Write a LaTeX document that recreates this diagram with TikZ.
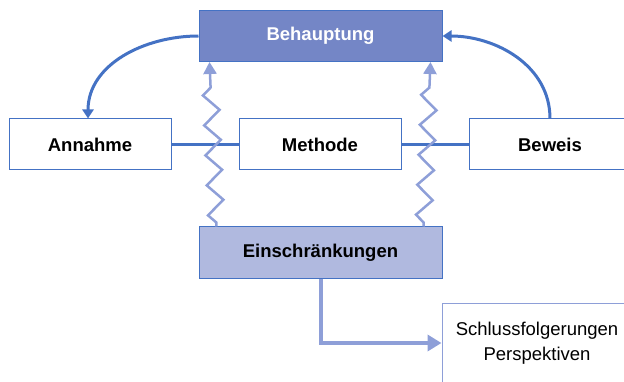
\documentclass[tikz,border=0pt]{standalone}
\usepackage{fontspec}
\setmainfont{Liberation Sans}
\usetikzlibrary{arrows.meta,decorations.pathmorphing}
\definecolor{darkblau}{HTML}{4472C4}
\definecolor{mittelblau}{HTML}{7486C6}
\definecolor{hellblau}{HTML}{B0B9DF}
\definecolor{zackblau}{HTML}{8E9FD8}
\tikzstyle{block} = [draw=darkblau, rectangle, line width=1pt, inner sep=0pt,
    minimum height=51pt, minimum width=162pt, font=\fontsize{18.5}{21}\selectfont\bfseries]
\tikzstyle{wide} = [block, minimum width=243pt]
\tikzstyle{link} = [draw=darkblau, line width=3pt]
\tikzstyle{bogen} = [draw=darkblau, line width=3pt, -{Triangle[width=11pt,length=9pt]}]
\tikzstyle{blitz} = [draw=zackblau, line width=2.5pt, -{Triangle[width=13pt,length=12pt]},
    decorate, decoration={zigzag, segment length=30pt, amplitude=8pt, pre length=4pt, post length=14pt}]

\begin{document}
\begin{tikzpicture}[x=1pt, y=-1pt, >=latex]
    \useasboundingbox (0,0) rectangle (624,382);
    \clip (0,0) rectangle (624,382);
    \node [wide, fill=mittelblau, text=white] (claim) at (320.5,36) {Behauptung};
    \node [block, fill=white] (annahme) at (90,144.5) {Annahme};
    \node [block, fill=white] (methode) at (320,144.5) {Methode};
    \node [block, fill=white] (beweis) at (550,144.5) {Beweis};
    \node [wide, fill=hellblau] (limits) at (320.5,252.5) {Einschränkungen};
    \node [block, draw=zackblau, fill=white, minimum width=190pt, minimum height=80pt, align=center,
        font=\fontsize{18.5}{25}\selectfont] (outlook) at (537,343) {Schlussfolgerungen\\Perspektiven};

    \draw [link] (annahme) -- (methode);
    \draw [link] (methode) -- (beweis);
    \draw [bogen] (claim.west) to[out=180, in=90] ([xshift=-2pt]annahme.north);
    \draw [bogen] (beweis.north) to[out=90, in=0] (claim.east);
    \draw [blitz] ([xshift=-104pt]limits.north) -- ([xshift=-111pt]claim.south);
    \draw [blitz] ([xshift=103pt]limits.north) -- ([xshift=110pt]claim.south);
    \draw [draw=zackblau, line width=4pt, -{Triangle[width=16pt,length=14pt]}]
        (limits.south) |- (outlook.west);
\end{tikzpicture}
\end{document}
